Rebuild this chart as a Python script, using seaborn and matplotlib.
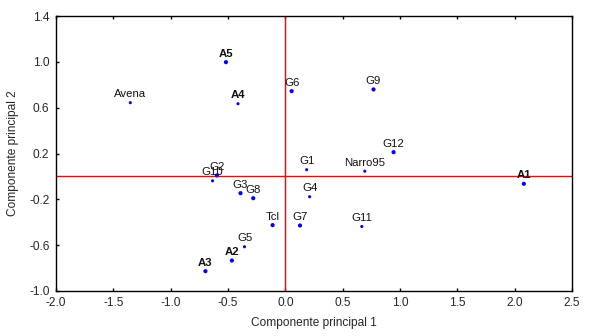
import matplotlib
matplotlib.use("Agg")
import matplotlib.pyplot as plt
import seaborn as sns
import pandas as pd

labels = ["Avena", "A5", "A4", "G6", "G9", "G12", "G1", "Narro95", "A1", "G2", "G10",
          "G3", "G8", "G4", "Tcl", "G7", "G11", "G5", "A2", "A3"]
pc1 = [-1.352, -0.518, -0.413, 0.055, 0.769, 0.944, 0.186, 0.693, 2.080, -0.597, -0.635,
       -0.391, -0.280, 0.212, -0.111, 0.128, 0.667, -0.356, -0.466, -0.697]
pc2 = [0.644, 0.998, 0.635, 0.745, 0.760, 0.212, 0.059, 0.046, -0.064, 0.009, -0.038,
       -0.146, -0.190, -0.177, -0.425, -0.428, -0.437, -0.614, -0.734, -0.827]
big = [False, True, False, True, True, True, False, False, True, True, False,
       True, True, False, True, True, False, False, True, True]
bold_labels = ["A1", "A2", "A3", "A4", "A5"]

xticks = [-2.0, -1.5, -1.0, -0.5, 0.0, 0.5, 1.0, 1.5, 2.0, 2.5]
yticks = [-1.0, -0.6, -0.2, 0.2, 0.6, 1.0, 1.4]

df = pd.DataFrame({"label": labels, "pc1": pc1, "pc2": pc2, "big": big})

sns.set_style("white")
plt.rcParams["font.family"] = ["Liberation Sans", "DejaVu Sans"]

fig = plt.figure(figsize=(5.91, 3.36), dpi=100)
ax = fig.add_axes([0.0948, 0.134, 0.873, 0.818])

ax.axhline(0, color="#ff0000", lw=1, zorder=1)
ax.axvline(0, color="#ff0000", lw=1, zorder=1)

sns.scatterplot(data=df[df["big"]], x="pc1", y="pc2", ax=ax, color="#0000ff",
                s=9, marker="o", edgecolor="none", zorder=3)
sns.scatterplot(data=df[~df["big"]], x="pc1", y="pc2", ax=ax, color="#0000ff",
                s=5, marker="o", edgecolor="none", zorder=3)

for _, r in df.iterrows():
    ax.annotate(r["label"], (r["pc1"], r["pc2"]), xytext=(0, 2.5),
                textcoords="offset points", ha="center", va="bottom",
                fontsize=8.2, color="#111111",
                fontweight="bold" if r["label"] in bold_labels else "normal")

ax.set_xlim(-2.0, 2.5)
ax.set_ylim(-1.0, 1.4)
ax.set_xticks(xticks)
ax.set_yticks(yticks)
ax.set_xticklabels([f"{v:.1f}" for v in xticks], fontsize=8.6)
ax.set_yticklabels([f"{v:.1f}" for v in yticks], fontsize=8.6)
ax.tick_params(direction="in", length=2.5, width=1, color="black",
               top=True, bottom=True, left=True, right=False)
ax.tick_params(axis="x", pad=4.3)
ax.tick_params(axis="y", pad=4.7)
ax.set_xlabel("Componente principal 1", fontsize=8.6, labelpad=6)
ax.set_ylabel("Componente principal 2", fontsize=8.6, labelpad=7)
for s in ax.spines.values():
    s.set_color("black")
    s.set_linewidth(1)

fig.savefig("out.png", dpi=100)
